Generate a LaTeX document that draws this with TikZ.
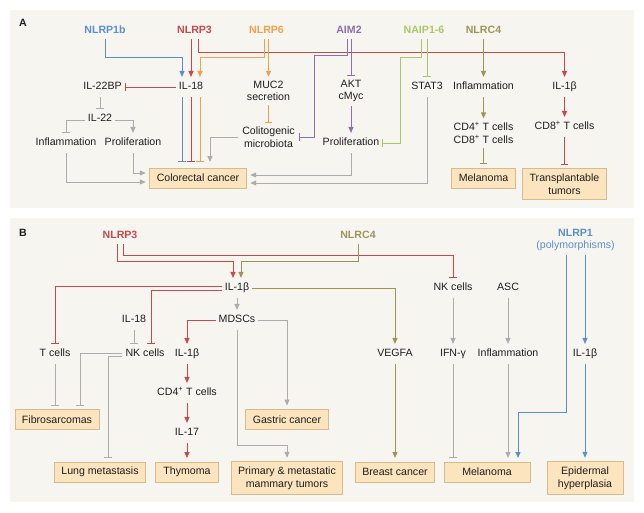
\documentclass[tikz,border=0pt]{standalone}
\usepackage{fontspec}
\setmainfont{Liberation Sans}
\usetikzlibrary{arrows.meta, calc}
\definecolor{panelbg}{RGB}{247,245,240}
\definecolor{boxfill}{RGB}{252,228,190}
\definecolor{boxline}{RGB}{216,186,140}
\definecolor{cblue}{RGB}{92,142,204}
\definecolor{cred}{RGB}{200,72,77}
\definecolor{corange}{RGB}{242,160,75}
\definecolor{cpurple}{RGB}{138,112,178}
\definecolor{cgreen}{RGB}{168,200,104}
\definecolor{colive}{RGB}{155,150,88}
\definecolor{cgray}{RGB}{172,172,172}
\definecolor{ink}{RGB}{30,30,30}

\begin{document}
\begin{tikzpicture}[x=1pt, y=-1pt, text=ink, font=\fontsize{10.6}{12.5}\selectfont,
    hd/.style={font=\fontsize{10.6}{12.5}\selectfont\bfseries, inner xsep=2pt, inner ysep=5pt, text height=7.7pt, text depth=0pt},
    lbl/.style={inner xsep=3pt, inner ysep=5pt, text height=7.7pt, text depth=2pt},
    lbltwo/.style={inner xsep=4pt, inner ysep=4pt, align=center},
    outcome/.style={draw=boxline, fill=boxfill, line width=0.9pt, inner xsep=7pt, inner ysep=5pt,
        minimum height=20pt, align=center, outer sep=4pt},
    act/.style={-{Triangle[length=6pt,width=5pt]}, line width=1pt},
    inh/.style={-{Bar[width=7.5pt]}, line width=1pt}]
    \useasboundingbox (0,0) rectangle (644,512);
    \fill[panelbg] (10,10) rectangle (634,208);
    \fill[panelbg] (10,218) rectangle (634,502);

    % panel A
    \node[hd] (labA) at (23,23) {A};
    \node[hd, text=cblue] (a1b) at (105,30) {NLRP1b};
    \node[hd, text=cred] (a3) at (194.5,30) {NLRP3};
    \node[hd, text=corange] (a6) at (266.5,30) {NLRP6};
    \node[hd, text=cpurple] (aim) at (349,30) {AIM2};
    \node[hd, text=cgreen] (naip) at (424,30) {NAIP1-6};
    \node[hd, text=colive] (anlrc) at (483.5,30) {NLRC4};

    \node[lbl] (a18) at (191,87) {IL-18};
    \node[lbl] (a22bp) at (102.5,87) {IL-22BP};
    \node[lbl] (a22) at (100,119) {IL-22};
    \node[lbl] (ainf) at (66,143) {Inflammation};
    \node[lbl] (aprol) at (133,143) {Proliferation};
    \node[lbltwo] (muc) at (268.5,91) {MUC2\\secretion};
    \node[lbltwo] (colito) at (268.5,137) {Colitogenic\\microbiota};
    \node[lbltwo] (akt) at (351,91) {AKT\\cMyc};
    \node[lbl] (aprol2) at (351,143) {Proliferation};
    \node[lbl] (stat) at (427,87) {STAT3};
    \node[lbl] (ainf2) at (483.5,87) {Inflammation};
    \node[lbl] (ail1b) at (564.5,87) {IL-1β};
    \node[lbltwo] (cd48) at (483.5,133) {CD4\textsuperscript{+} T cells\\CD8\textsuperscript{+} T cells};
    \node[lbl] (cd8) at (564.5,127) {CD8\textsuperscript{+} T cells};
    \node[outcome, minimum width=96pt] (crc) at (198,178) {Colorectal cancer};
    \node[outcome, minimum width=63pt] (melA) at (483.5,178) {Melanoma};
    \node[outcome, minimum width=83pt] (transp) at (564.5,184) {Transplantable\\tumors};

    \draw[act,cblue] (a1b.south) |- ([xshift=-9pt,yshift=19pt]a18.north) -- ([xshift=-9pt]a18.north);
    \draw[act,cred] (a18.north |- a3.south) -- (a18.north);
    \draw[act,cred] ([xshift=3.5pt]a3.south) |- ([yshift=24pt]ail1b.north) -- (ail1b.north);
    \draw[act,corange] ([xshift=-2.5pt]a6.south) |- ([xshift=9pt,yshift=19pt]a18.north) -- ([xshift=9pt]a18.north);
    \draw[act,corange] (muc.north |- a6.south) -- (muc.north);
    \foreach \dx/\col in {-9/cblue, 0/cred, 9/corange}
        \draw[inh,\col] ([xshift=\dx pt]a18.south) -- ([xshift=\dx pt,yshift=2pt]a18.south |- crc.north);
    \draw[inh,cred] (a18.west) -- (a22bp.east);
    \draw[inh,cgray] (a22 |- a22bp.south) -- (a22.north);
    \draw[inh,cgray] ([yshift=-1pt]a22.west) -| (ainf.north);
    \draw[act,cgray] ([yshift=-1pt]a22.east) -| (aprol.north);
    \draw[act,cgray] (ainf.south) |- ([yshift=-4pt]crc.west);
    \draw[act,cgray] (aprol.south) |- ([yshift=5pt]crc.west);
    \draw[inh,corange] (muc.south) -- (colito.north);
    \draw[act,cgray] (colito.west) -| ([xshift=12pt,yshift=2pt]crc.north);
    \draw[inh,cpurple] ([xshift=-2pt]aim.south) |- ([xshift=-37pt,yshift=20pt]akt.north) |- (colito.east);
    \draw[inh,cpurple] (akt.north |- aim.south) -- (akt.north);
    \draw[act,cpurple] (akt.south) -- (aprol2.north);
    \draw[inh,cgreen] ([xshift=-3pt]naip.south) |- ([xshift=-27pt,yshift=19pt]stat.north) |- (aprol2.east);
    \draw[inh,cgreen] (stat.north |- naip.south) -- (stat.north);
    \draw[act,cgray] (aprol2.south) |- ([yshift=3pt]crc.east);
    \draw[act,cgray] (stat.south) |- ([yshift=-5pt]crc.east);
    \draw[act,colive] (anlrc.south) -- (ainf2.north);
    \draw[act,colive] (ainf2.south) -- (cd48.north);
    \draw[inh,colive] (cd48.south) -- (melA.north);
    \draw[act,cred] (ail1b.south) -- (cd8.north);
    \draw[inh,cred] (cd8.south) -- (transp.north);

    % panel B
    \node[hd] (labB) at (23,233) {B};
    \node[hd, text=cred] (bl3) at (120,235) {NLRP3};
    \node[hd, text=colive] (bc4) at (358,235) {NLRC4};
    \node[lbltwo, text=cblue] (bn1) at (575.5,240) {\textbf{NLRP1}\\(polymorphisms)};
    \node[lbl] (bil1b) at (237,288) {IL-1β};
    \node[lbl] (bnk2) at (453,288) {NK cells};
    \node[lbl] (basc) at (508,288) {ASC};
    \node[lbl] (bil18) at (134,320) {IL-18};
    \node[lbl] (mdsc) at (237,320) {MDSCs};
    \node[lbl] (btc) at (55,354) {T cells};
    \node[lbl] (bnk) at (145,354) {NK cells};
    \node[lbl] (bil1b2) at (187,354) {IL-1β};
    \node[lbl] (vegfa) at (395,354) {VEGFA};
    \node[lbl] (bifn) at (453,354) {IFN-γ};
    \node[lbl] (binf) at (508,354) {Inflammation};
    \node[lbl] (bil1b3) at (585,354) {IL-1β};
    \node[lbl] (bcd4) at (187,393) {CD4\textsuperscript{+} T cells};
    \node[lbl] (bil17) at (187,433) {IL-17};
    \node[outcome] (fib) at (57,419.5) {Fibrosarcomas};
    \node[outcome] (gastric) at (287,419.5) {Gastric cancer};
    \node[outcome] (lung) at (100,472) {Lung metastasis};
    \node[outcome, minimum width=63pt] (thym) at (187,472) {Thymoma};
    \node[outcome] (prim) at (287,478) {Primary \& metastatic\\mammary tumors};
    \node[outcome] (breast) at (395,472) {Breast cancer};
    \node[outcome, minimum width=86pt] (melB) at (487,472) {Melanoma};
    \node[outcome, minimum width=76pt] (epid) at (585,478) {Epidermal\\hyperplasia};

    \draw[act,cred] ([xshift=-3pt]bl3.south) |- ([xshift=-4pt,yshift=16pt]bil1b.north) -- ([xshift=-4pt]bil1b.north);
    \draw[inh,cred] ([xshift=3pt]bl3.south) |- ([yshift=22pt]bnk2.north) -- (bnk2.north);
    \draw[act,colive] (bc4.south) |- ([xshift=4pt,yshift=16pt]bil1b.north) -- ([xshift=4pt]bil1b.north);
    \draw[inh,cred] ([yshift=2pt]bil1b.west) -| (btc.north);
    \draw[inh,cred] ([yshift=-2pt]bil1b.west) -| ([xshift=6pt]bnk.north);
    \draw[inh,cgray] (bil18.south) -- (bil18 |- bnk.north);
    \draw[act,cgray] (bil1b.south) -- (mdsc.north);
    \draw[act,cred] (mdsc.west) -| (bil1b2.north);
    \draw[act,cgray] (mdsc.east) -| (gastric.north);
    \draw[act,cgray] (mdsc.south) |- ([yshift=12pt]prim.north) -- (prim.north);
    \draw[act,cred] (bil1b2.south) -- (bcd4.north);
    \draw[act,cred] (bcd4.south) -- (bil17.north);
    \draw[act,cred] (bil17.south) -- (thym.north);
    \draw[inh,cgray] (btc.south) -- (btc |- fib.north);
    \draw[inh,cgray] ([yshift=1pt]bnk.west) -| ([xshift=23pt]fib.north);
    \draw[inh,cgray] ([yshift=-2pt]bnk.west) -| ([xshift=8pt]lung.north);
    \draw[act,colive] (bil1b.east) -| (vegfa.north);
    \draw[act,colive] (vegfa.south) -- (breast.north);
    \draw[act,cgray] (bnk2.south) -- (bifn.north);
    \draw[inh,cgray] (bifn.south) -- (bifn |- melB.north);
    \draw[act,cgray] (basc.south) -- (binf.north);
    \draw[act,cgray] (binf.south) -- (binf |- melB.north);
    \draw[act,cblue] ([xshift=-9.5pt]bn1.south) |- ([xshift=31pt,yshift=46pt]melB.north) -- ([xshift=31pt]melB.north);
    \draw[act,cblue] (bil1b3 |- bn1.south) -- (bil1b3.north);
    \draw[act,cblue] (bil1b3.south) -- (epid.north);
\end{tikzpicture}
\end{document}
